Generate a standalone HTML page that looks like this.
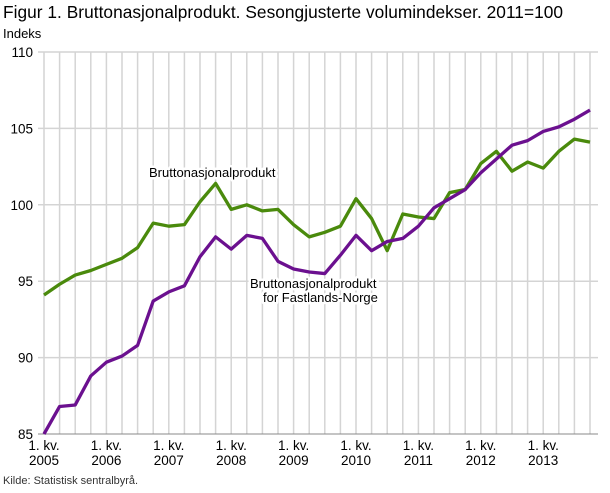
<!DOCTYPE html>
<html><head><meta charset="utf-8"><style>
body{margin:0;background:#fff;width:610px;height:488px;overflow:hidden}
svg{font-family:"Liberation Sans",sans-serif}
.lb{paint-order:stroke;stroke:#fff;stroke-width:5px;stroke-linejoin:round}
</style></head><body>
<svg id="s" width="610" height="488" xmlns="http://www.w3.org/2000/svg">
<text x="3" y="18" font-size="17.3" fill="#000" textLength="560">Figur 1. Bruttonasjonalprodukt. Sesongjusterte volumindekser. 2011=100</text>
<text x="3" y="38" font-size="13" fill="#000">Indeks</text>
<text x="3" y="484" font-size="11" fill="#333">Kilde: Statistisk sentralbyrå.</text>
<g id="g"></g>
<text class="lb" x="149" y="177" font-size="13">Bruttonasjonalprodukt</text>
<text class="lb" x="250" y="288" font-size="13">Bruttonasjonalprodukt</text>
<text class="lb" x="263" y="302" font-size="13">for Fastlands-Norge</text>
</svg>
<script>
const g=document.getElementById('g');let h='';
const X=i=>44+i*15.6, Y=v=>434-(v-85)*15.28;
for(let i=0;i<36;i++)h+=`<line x1="${X(i)}" y1="52" x2="${X(i)}" y2="434" stroke="#d4d4d4" stroke-width="1.5"/>`;
for(let v=90;v<=110;v+=5)h+=`<line x1="38" y1="${Y(v)}" x2="598" y2="${Y(v)}" stroke="#d4d4d4" stroke-width="1.5"/><text x="33" y="${Y(v)+5}" font-size="13.5" text-anchor="end">${v}</text>`;
h+=`<line x1="38" y1="434" x2="598" y2="434" stroke="#888" stroke-width="1"/><text x="33" y="439" font-size="13.5" text-anchor="end">85</text>`;
for(let y=0;y<9;y++){const x=X(y*4);h+=`<text x="${x}" y="450" font-size="13.5" text-anchor="middle">1. kv.</text><text x="${x}" y="465" font-size="13.5" text-anchor="middle">${2005+y}</text>`;}
const gr=[94.1,94.8,95.4,95.7,96.1,96.5,97.2,98.8,98.6,98.7,100.2,101.4,99.7,100.0,99.6,99.7,98.7,97.9,98.2,98.6,100.4,99.1,97.0,99.4,99.2,99.1,100.8,101.0,102.7,103.5,102.2,102.8,102.4,103.5,104.3,104.1];
const pu=[85.0,86.8,86.9,88.8,89.7,90.1,90.8,93.7,94.3,94.7,96.6,97.9,97.1,98.0,97.8,96.3,95.8,95.6,95.5,96.7,98.0,97.0,97.6,97.8,98.6,99.8,100.4,101.0,102.1,103.0,103.9,104.2,104.8,105.1,105.6,106.2];
const p=a=>a.map((v,i)=>X(i)+','+Y(v)).join(' ');
h+=`<polyline points="${p(gr)}" fill="none" stroke="#4a8a0c" stroke-width="3.3" stroke-linejoin="round"/>`;
h+=`<polyline points="${p(pu)}" fill="none" stroke="#6b108f" stroke-width="3.3" stroke-linejoin="round"/>`;
g.innerHTML=h;
</script>
</body></html>
